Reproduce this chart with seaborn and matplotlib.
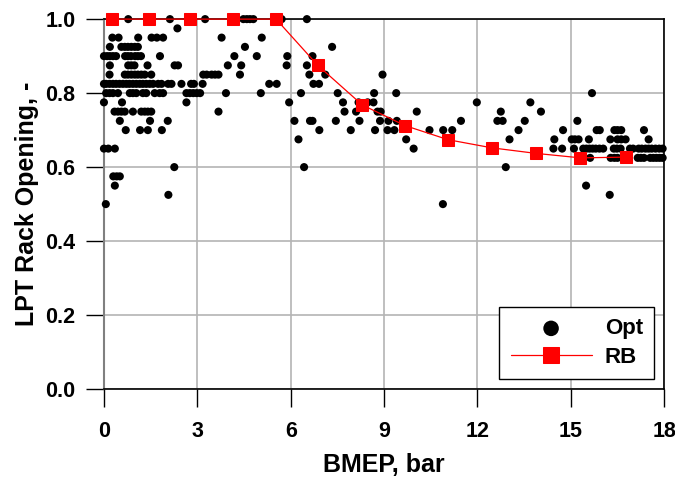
import numpy as np
import pandas as pd
import matplotlib
matplotlib.use("Agg")
import matplotlib.pyplot as plt
import seaborn as sns

# ---- RB (rule-based) series ----
rb_bmep = [0.26, 1.45, 2.77, 4.15, 5.53, 6.87, 8.30, 9.68, 11.06, 12.47, 13.89, 15.31, 16.78]
rb_rack = [1.0, 1.0, 1.0, 1.0, 1.0, 0.875, 0.768, 0.712, 0.674, 0.652, 0.637, 0.625, 0.627]

# ---- Opt (optimised) points, grouped by rack opening level ----
opt_1000 = [0.78, 2.12, 3.25, 4.48, 4.59, 4.69, 4.80, 5.71, 6.52]
opt_0975 = [2.36]
opt_0950 = [0.27, 0.47, 1.10, 1.53, 1.70, 1.90, 3.78, 5.07]
opt_0925 = [0.19, 0.56, 0.67, 0.77, 0.88, 0.99, 1.09, 4.53, 7.33]
opt_0900 = [0.00, 0.10, 0.19, 0.29, 0.39, 0.68, 0.77, 0.87, 1.00, 1.09, 1.19, 1.80,
            4.19, 4.91, 5.89, 6.70]
opt_0875 = [0.19, 0.78, 0.88, 0.98, 1.40, 2.27, 2.38, 3.98, 4.41, 5.87, 6.52]
opt_0850 = [0.18, 0.67, 0.77, 0.88, 0.99, 1.09, 1.20, 1.31, 1.52, 3.19, 3.30, 3.46,
            3.57, 3.68, 4.37, 6.60, 7.11, 8.95]
opt_0825 = [0.00, 0.07, 0.18, 0.29, 0.39, 0.50, 0.61, 0.72, 0.82, 0.93, 1.04, 1.15,
            1.25, 1.36, 1.47, 1.58, 1.74, 1.85, 2.06, 2.17, 2.49, 2.80, 2.89, 3.17,
            5.31, 5.55, 6.73, 6.91]
opt_0800 = [0.07, 0.18, 0.29, 0.45, 0.83, 0.93, 1.04, 1.25, 1.36, 1.63, 1.79, 1.90,
            2.65, 2.76, 2.87, 2.98, 3.09, 3.92, 5.04, 6.33, 7.51, 8.68, 9.39, 15.68]
opt_0775 = [0.00, 0.58, 2.65, 5.95, 7.68, 8.18, 8.47, 8.66, 11.98, 13.70]
opt_0750 = [0.34, 0.45, 0.56, 0.67, 0.93, 1.20, 1.31, 1.41, 1.52, 3.68, 7.73, 8.10,
            8.79, 8.89, 10.05, 12.75, 14.04]
opt_0725 = [0.51, 1.48, 2.05, 6.12, 6.62, 6.70, 7.45, 8.21, 8.87, 9.14, 9.41, 11.47,
            12.64, 12.81, 13.52, 15.21]
opt_0700 = [0.70, 1.16, 1.41, 1.86, 6.92, 7.93, 8.71, 9.11, 9.33, 10.46, 10.90, 11.19,
            13.32, 14.75, 15.83, 15.93, 16.40, 16.50, 16.62, 17.35]
opt_0675 = [6.25, 9.71, 13.03, 14.47, 15.03, 15.13, 15.25, 15.58, 16.27, 16.50, 16.62,
            16.76, 17.50]
opt_0650 = [0.00, 0.14, 0.35, 9.95, 14.44, 14.72, 15.10, 15.40, 15.50, 15.60, 15.70,
            15.80, 15.92, 16.04, 16.38, 16.48, 16.60, 16.90, 17.00, 17.18, 17.28, 17.40,
            17.50, 17.60, 17.72, 17.84, 17.95]
opt_0625 = [15.62, 16.28, 16.40, 16.50, 17.15, 17.25, 17.35, 17.55, 17.65, 17.75,
            17.85, 17.95]
opt_0600 = [2.26, 6.43, 12.91]
opt_0575 = [0.30, 0.41, 0.51]
opt_0550 = [0.35, 15.49]
opt_0525 = [2.07, 16.25]
opt_0500 = [0.06, 10.89]

opt_levels = [1.0, 0.975, 0.95, 0.925, 0.9, 0.875, 0.85, 0.825, 0.8, 0.775, 0.75,
              0.725, 0.7, 0.675, 0.65, 0.625, 0.6, 0.575, 0.55, 0.525, 0.5]
opt_groups = [opt_1000, opt_0975, opt_0950, opt_0925, opt_0900, opt_0875, opt_0850,
              opt_0825, opt_0800, opt_0775, opt_0750, opt_0725, opt_0700, opt_0675,
              opt_0650, opt_0625, opt_0600, opt_0575, opt_0550, opt_0525, opt_0500]

x_ticks = [0, 3, 6, 9, 12, 15, 18]
y_ticks = [0.0, 0.2, 0.4, 0.6, 0.8, 1.0]

opt_df = pd.DataFrame({
    "bmep": np.concatenate([np.asarray(g, float) for g in opt_groups]),
    "rack": np.concatenate([[lv] * len(g) for lv, g in zip(opt_levels, opt_groups)]),
})
rb_df = pd.DataFrame({"bmep": rb_bmep, "rack": rb_rack})

sns.set_style("white")
plt.rcParams["font.family"] = ["Liberation Sans", "DejaVu Sans"]
plt.rcParams["font.weight"] = "bold"
for key in ["text.color", "axes.labelcolor", "xtick.color", "ytick.color"]:
    plt.rcParams[key] = "black"

fig, ax = plt.subplots(figsize=(6.75, 4.78), dpi=100)
fig.subplots_adjust(left=0.154, right=0.984, top=0.960, bottom=0.186)

sns.scatterplot(data=opt_df, x="bmep", y="rack", color="black", s=34,
                edgecolor="none", label="Opt", ax=ax, zorder=3, clip_on=False)
sns.lineplot(data=rb_df, x="bmep", y="rack", color="red", lw=0.9, marker="s",
             markersize=8.2, markeredgecolor="red", label="RB", ax=ax, zorder=4,
             clip_on=False)

ax.set_xlim(0, 18)
ax.set_ylim(0, 1.0)
ax.set_xticks(x_ticks)
ax.set_yticks(y_ticks)
ax.set_xticklabels([str(t) for t in x_ticks])
ax.set_yticklabels([f"{t:.1f}" for t in y_ticks])
ax.grid(True, color="#b4b4b4", lw=1.2)
ax.set_axisbelow(True)
ax.tick_params(axis="both", direction="out", length=13, width=1, color="black",
               labelsize=15.5, bottom=True, left=True, labelcolor="black")
ax.tick_params(axis="x", pad=10)
ax.tick_params(axis="y", pad=7.5)
for lab in ax.get_xticklabels() + ax.get_yticklabels():
    lab.set_fontweight("bold")
for side in ["top", "right", "bottom"]:
    ax.spines[side].set_color("black")
    ax.spines[side].set_linewidth(1.2)
ax.spines["left"].set_color("#808080")
ax.spines["left"].set_linewidth(1.5)

ax.set_xlabel("BMEP, bar", fontsize=18, fontweight="bold", labelpad=8, color="black")
ax.set_ylabel("LPT Rack Opening, -", fontsize=18, fontweight="bold", labelpad=4.5,
              color="black")

leg = ax.legend(loc="lower right", frameon=True, fancybox=False, edgecolor="black",
                framealpha=1, handlelength=3.65, borderpad=0.5, labelspacing=0.35,
                borderaxespad=0.45, handletextpad=0.6,
                prop={"size": 16, "weight": "bold"})
leg.get_frame().set_linewidth(1.0)
for txt in leg.get_texts():
    txt.set_color("black")
handles = leg.legend_handles
handles[0].set_sizes([125])
handles[1].set_markersize(11.5)

fig.savefig("out.png", dpi=100)
